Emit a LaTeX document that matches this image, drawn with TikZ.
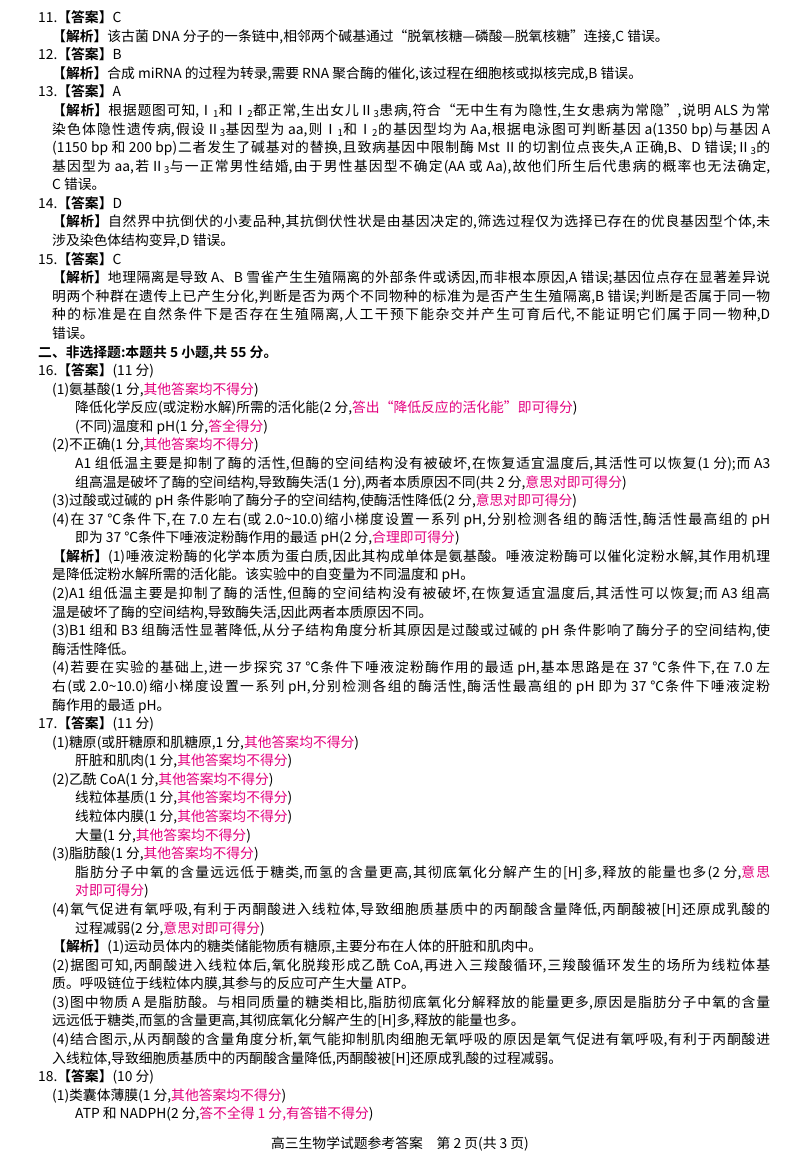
\documentclass[tikz,border=0pt]{standalone}
\usepackage{fontspec}
\setmainfont{Noto Sans CJK SC}[BoldFont={Noto Sans CJK SC Bold}]
\definecolor{pinkc}{RGB}{228,0,127}
\newcommand\pk[1]{\textcolor{pinkc}{#1}}
\newcommand\bb[1]{\textbf{#1}}
\newcommand\sub[1]{\textsubscript{#1}}
\newcommand\JL[4]{\node[anchor=west,inner sep=0pt] (#1) at (#2,{1147-(#3-1)*18.58}) {\parbox{\dimexpr770pt-#2pt\relax}{\parfillskip=0pt\relax\strut #4}};}
\newcommand\LL[4]{\node[anchor=west,inner sep=0pt] (#1) at (#2,{1147-(#3-1)*18.58}) {\strut #4};}
\begin{document}
\XeTeXlinebreaklocale "zh"
\XeTeXlinebreakskip=0pt plus 3pt minus 0.4pt
\begin{tikzpicture}[x=1pt,y=1pt,font=\fontsize{13.8}{15}\selectfont]
\fill[white] (0,0) rectangle (800,1166);
\useasboundingbox (0,0) rectangle (800,1166);
\LL{l1}{38}{1}{11.\bb{【答案】}C}
\LL{l2}{52}{2}{\bb{【解析】}该古菌 DNA 分子的一条链中,相邻两个碱基通过“脱氧核糖—磷酸—脱氧核糖”连接,C 错误。}
\LL{l3}{38}{3}{12.\bb{【答案】}B}
\LL{l4}{52}{4}{\bb{【解析】}合成 miRNA 的过程为转录,需要 RNA 聚合酶的催化,该过程在细胞核或拟核完成,B 错误。}
\LL{l5}{38}{5}{13.\bb{【答案】}A}
\JL{l6}{52}{6}{\bb{【解析】}根据题图可知,Ⅰ\sub{1}和Ⅰ\sub{2}都正常,生出女儿Ⅱ\sub{3}患病,符合“无中生有为隐性,生女患病为常隐”,说明 ALS 为常}
\JL{l7}{52}{7}{染色体隐性遗传病,假设Ⅱ\sub{3}基因型为 aa,则Ⅰ\sub{1}和Ⅰ\sub{2}的基因型均为 Aa,根据电泳图可判断基因 a(1350 bp)与基因 A}
\JL{l8}{52}{8}{(1150 bp 和 200 bp)二者发生了碱基对的替换,且致病基因中限制酶 Mst Ⅱ的切割位点丧失,A 正确,B、D 错误;Ⅱ\sub{3}的}
\JL{l9}{52}{9}{基因型为 aa,若Ⅱ\sub{3}与一正常男性结婚,由于男性基因型不确定(AA 或 Aa),故他们所生后代患病的概率也无法确定,}
\LL{l10}{52}{10}{C 错误。}
\LL{l11}{38}{11}{14.\bb{【答案】}D}
\JL{l12}{52}{12}{\bb{【解析】}自然界中抗倒伏的小麦品种,其抗倒伏性状是由基因决定的,筛选过程仅为选择已存在的优良基因型个体,未}
\LL{l13}{52}{13}{涉及染色体结构变异,D 错误。}
\LL{l14}{38}{14}{15.\bb{【答案】}C}
\JL{l15}{52}{15}{\bb{【解析】}地理隔离是导致 A、B 雪雀产生生殖隔离的外部条件或诱因,而非根本原因,A 错误;基因位点存在显著差异说}
\JL{l16}{52}{16}{明两个种群在遗传上已产生分化,判断是否为两个不同物种的标准为是否产生生殖隔离,B 错误;判断是否属于同一物}
\JL{l17}{52}{17}{种的标准是在自然条件下是否存在生殖隔离,人工干预下能杂交并产生可育后代,不能证明它们属于同一物种,D}
\LL{l18}{52}{18}{错误。}
\LL{l19}{38}{19}{\bb{二、非选择题:本题共 5 小题,共 55 分。}}
\LL{l20}{38}{20}{16.\bb{【答案】}(11 分)}
\LL{l21}{52}{21}{(1)氨基酸(1 分,\pk{其他答案均不得分})}
\LL{l22}{75}{22}{降低化学反应(或淀粉水解)所需的活化能(2 分,\pk{答出“降低反应的活化能”即可得分})}
\LL{l23}{75}{23}{(不同)温度和 pH(1 分,\pk{答全得分})}
\LL{l24}{52}{24}{(2)不正确(1 分,\pk{其他答案均不得分})}
\JL{l25}{75}{25}{A1 组低温主要是抑制了酶的活性,但酶的空间结构没有被破坏,在恢复适宜温度后,其活性可以恢复(1 分);而 A3}
\LL{l26}{75}{26}{组高温是破坏了酶的空间结构,导致酶失活(1 分),两者本质原因不同(共 2 分,\pk{意思对即可得分})}
\LL{l27}{52}{27}{(3)过酸或过碱的 pH 条件影响了酶分子的空间结构,使酶活性降低(2 分,\pk{意思对即可得分})}
\JL{l28}{52}{28}{(4)在 37 ℃条件下,在 7.0 左右(或 2.0\textasciitilde10.0)缩小梯度设置一系列 pH,分别检测各组的酶活性,酶活性最高组的 pH}
\LL{l29}{75}{29}{即为 37 ℃条件下唾液淀粉酶作用的最适 pH(2 分,\pk{合理即可得分})}
\JL{l30}{52}{30}{\bb{【解析】}(1)唾液淀粉酶的化学本质为蛋白质,因此其构成单体是氨基酸。唾液淀粉酶可以催化淀粉水解,其作用机理}
\LL{l31}{52}{31}{是降低淀粉水解所需的活化能。该实验中的自变量为不同温度和 pH。}
\JL{l32}{52}{32}{(2)A1 组低温主要是抑制了酶的活性,但酶的空间结构没有被破坏,在恢复适宜温度后,其活性可以恢复;而 A3 组高}
\LL{l33}{52}{33}{温是破坏了酶的空间结构,导致酶失活,因此两者本质原因不同。}
\JL{l34}{52}{34}{(3)B1 组和 B3 组酶活性显著降低,从分子结构角度分析其原因是过酸或过碱的 pH 条件影响了酶分子的空间结构,使}
\LL{l35}{52}{35}{酶活性降低。}
\JL{l36}{52}{36}{(4)若要在实验的基础上,进一步探究 37 ℃条件下唾液淀粉酶作用的最适 pH,基本思路是在 37 ℃条件下,在 7.0 左}
\JL{l37}{52}{37}{右(或 2.0\textasciitilde10.0)缩小梯度设置一系列 pH,分别检测各组的酶活性,酶活性最高组的 pH 即为 37 ℃条件下唾液淀粉}
\LL{l38}{52}{38}{酶作用的最适 pH。}
\LL{l39}{38}{39}{17.\bb{【答案】}(11 分)}
\LL{l40}{52}{40}{(1)糖原(或肝糖原和肌糖原,1 分,\pk{其他答案均不得分})}
\LL{l41}{75}{41}{肝脏和肌肉(1 分,\pk{其他答案均不得分})}
\LL{l42}{52}{42}{(2)乙酰 CoA(1 分,\pk{其他答案均不得分})}
\LL{l43}{75}{43}{线粒体基质(1 分,\pk{其他答案均不得分})}
\LL{l44}{75}{44}{线粒体内膜(1 分,\pk{其他答案均不得分})}
\LL{l45}{75}{45}{大量(1 分,\pk{其他答案均不得分})}
\LL{l46}{52}{46}{(3)脂肪酸(1 分,\pk{其他答案均不得分})}
\JL{l47}{75}{47}{脂肪分子中氧的含量远远低于糖类,而氢的含量更高,其彻底氧化分解产生的[H]多,释放的能量也多(2 分,\pk{意思}}
\LL{l48}{75}{48}{\pk{对即可得分})}
\JL{l49}{52}{49}{(4)氧气促进有氧呼吸,有利于丙酮酸进入线粒体,导致细胞质基质中的丙酮酸含量降低,丙酮酸被[H]还原成乳酸的}
\LL{l50}{75}{50}{过程减弱(2 分,\pk{意思对即可得分})}
\LL{l51}{52}{51}{\bb{【解析】}(1)运动员体内的糖类储能物质有糖原,主要分布在人体的肝脏和肌肉中。}
\JL{l52}{52}{52}{(2)据图可知,丙酮酸进入线粒体后,氧化脱羧形成乙酰 CoA,再进入三羧酸循环,三羧酸循环发生的场所为线粒体基}
\LL{l53}{52}{53}{质。呼吸链位于线粒体内膜,其参与的反应可产生大量 ATP。}
\JL{l54}{52}{54}{(3)图中物质 A 是脂肪酸。与相同质量的糖类相比,脂肪彻底氧化分解释放的能量更多,原因是脂肪分子中氧的含量}
\LL{l55}{52}{55}{远远低于糖类,而氢的含量更高,其彻底氧化分解产生的[H]多,释放的能量也多。}
\JL{l56}{52}{56}{(4)结合图示,从丙酮酸的含量角度分析,氧气能抑制肌肉细胞无氧呼吸的原因是氧气促进有氧呼吸,有利于丙酮酸进}
\LL{l57}{52}{57}{入线粒体,导致细胞质基质中的丙酮酸含量降低,丙酮酸被[H]还原成乳酸的过程减弱。}
\LL{l58}{38}{58}{18.\bb{【答案】}(10 分)}
\LL{l59}{52}{59}{(1)类囊体薄膜(1 分,\pk{其他答案均不得分})}
\LL{l60}{75}{60}{ATP 和 NADPH(2 分,\pk{答不全得 1 分,有答错不得分})}
\node[inner sep=0pt] (foot) at (400,22) {高三生物学试题参考答案\quad 第 2 页(共 3 页)};
\end{tikzpicture}
\end{document}
